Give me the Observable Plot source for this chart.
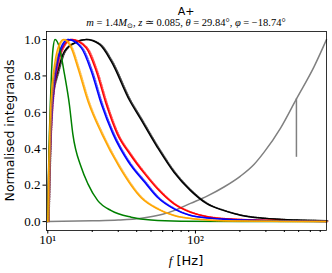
<!DOCTYPE html>
<html><head><meta charset="utf-8">
<script src="https://cdn.jsdelivr.net/npm/d3@7"></script>
<script src="https://cdn.jsdelivr.net/npm/@observablehq/plot@0.6"></script>
<style>html,body{margin:0;padding:0;background:#fff;}</style>
</head><body><div id="chart"></div>
<script>
const title = "A+";
const xLabelUnit = " [Hz]";
const yLabel = "Normalised integrands";
const yTicks = [0, 0.2, 0.4, 0.6, 0.8, 1.0];
const xMajor = [10, 100];
const xMajorLabels = ["10¹", "10²"];
const xMinor = [20,30,40,50,60,70,80,90,200,300,400,500,600,700];

const greenF = [10,10.1,10.25,10.4,10.6,10.85,11.2,12.0,12.98,14.0,14.77,16.85,18.7,21.8,26.9,36.7,50,80,200,772];
const greenV = [0,0.25,0.48,0.64,0.82,0.95,1.0,0.954,0.808,0.643,0.482,0.298,0.207,0.115,0.06,0.024,0.008,0.002,0.0005,0];
const orangeF = [10,10.15,10.35,10.7,11.2,11.8,12.78,14.4,15.97,18.8,23.2,30.6,43,55.2,71.5,100,120,200,772];
const orangeV = [0,0.3,0.55,0.75,0.88,0.96,1.0,0.954,0.845,0.655,0.482,0.298,0.13,0.07,0.033,0.014,0.009,0.003,0];
const blueF = [10,10.15,10.4,10.8,11.4,12.2,13.66,16.85,19.7,23.1,27.6,35,45.3,55.2,71.5,92.6,120,202,772];
const blueV = [0,0.28,0.52,0.72,0.86,0.95,1.0,0.954,0.826,0.643,0.482,0.33,0.216,0.134,0.07,0.033,0.02,0.009,0.001];
const redF = [10,10.15,10.4,10.8,11.5,12.5,14.4,18.2,21.3,24.9,29.5,36,45.3,55.2,71.5,92.6,120,202,772];
const redV = [0,0.27,0.5,0.7,0.85,0.95,1.0,0.954,0.826,0.643,0.482,0.37,0.262,0.18,0.097,0.051,0.027,0.011,0.001];
const blackF = [10,10.1,10.25,10.54,11.69,12.98,15.17,18.2,22.4,26.9,35.8,42.5,55.2,71.5,92.6,120,156,202,290,490,772];
const blackV = [0,0.15,0.35,0.643,0.826,0.936,0.982,1.0,0.973,0.88,0.665,0.564,0.408,0.271,0.17,0.097,0.06,0.035,0.018,0.008,0.004];
const grayF = [10,20,30,43,60,71.5,92.6,120,156,202,250,291,378,483,635,772];
const grayV = [0,0.004,0.008,0.018,0.04,0.06,0.1,0.14,0.19,0.25,0.315,0.38,0.515,0.674,0.85,1.0];
const markerF = [483];
const markerLo = [0.353];
const markerHi = [0.674];

const toRows = (F, V) => F.map((f, i) => ({f, v: V[i]}));
const series = [
  {rows: toRows(grayF, grayV), color: "gray", dotted: false},
  {rows: toRows(blackF, blackV), color: "black", dotted: true},
  {rows: toRows(redF, redV), color: "red", dotted: true},
  {rows: toRows(blueF, blueV), color: "blue", dotted: true},
  {rows: toRows(greenF, greenV), color: "green", dotted: false},
  {rows: toRows(orangeF, orangeV), color: "orange", dotted: true}
];
const marker = markerF.map((f, i) => ({f, lo: markerLo[i], hi: markerHi[i]}));

const marks = [];
for (const s of series) {
  if (s.dotted) marks.push(Plot.line(s.rows, {x: "f", y: "v", stroke: s.color, strokeWidth: 1.5, strokeDasharray: "1.2,1.2", dx: 1.2, curve: "monotone-x", strokeOpacity: 0.7}));
  marks.push(Plot.line(s.rows, {x: "f", y: "v", stroke: s.color, strokeWidth: 1.5, curve: "monotone-x"}));
}
marks.push(Plot.ruleX(marker, {x: "f", y1: "lo", y2: "hi", stroke: "gray", strokeWidth: 1.5}));

const chart = Plot.plot({
  width: 332, height: 273,
  marginLeft: 46, marginRight: 6, marginTop: 31, marginBottom: 43,
  style: {fontFamily: "'Liberation Serif', serif", fontSize: "13px", background: "white", color: "black"},
  x: {type: "log", domain: [9.8, 772], label: null},
  y: {domain: [-0.049, 1.044], label: null},
  marks: [
    ...marks,
    Plot.axisY({ticks: yTicks, tickFormat: d3.format(".1f"), tickSize: 3.5, tickPadding: 2.5, label: null, fontSize: 13}),
    Plot.axisX({ticks: xMajor, tickFormat: (d, i) => xMajorLabels[xMajor.indexOf(d)], tickSize: 3.5, tickPadding: 1, label: null, fontSize: 13}),
    Plot.axisX({ticks: xMinor, tickFormat: () => "", tickSize: 2, label: null}),
    Plot.frame({stroke: "black", strokeWidth: 0.8})
  ]
});
document.getElementById("chart").appendChild(chart);

const svg = d3.select(chart);
const cx = (46 + 326) / 2;
svg.append("text").attr("x", cx).attr("y", 15).attr("text-anchor", "middle")
  .style("font-family", "'DejaVu Sans', sans-serif").style("font-size", "11px").text(title);
const sub = svg.append("text").attr("x", cx).attr("y", 25.5).attr("text-anchor", "middle")
  .style("font-family", "'Liberation Serif', serif").style("font-size", "10.5px");
const parts = [["m","i"],[" = 1.4",""],["M","i"],["⊙","sub"],[", ",""],["z","i"],[" ≃ 0.085, ",""],["θ","i"],[" = 29.84°, ",""],["φ","i"],[" = −18.74°",""]];
let shifted = false;
for (const [t, k] of parts) {
  const ts = sub.append("tspan").text(t);
  if (k === "i") ts.style("font-style", "italic");
  if (k === "sub") { ts.attr("dy", 2).style("font-size", "7px"); shifted = true; }
  else if (shifted) { ts.attr("dy", -2); shifted = false; }
}
svg.append("text").attr("transform", `translate(13.5,130.5) rotate(-90)`).attr("text-anchor", "middle")
  .style("font-family", "'DejaVu Sans', sans-serif").style("font-size", "12.5px").text(yLabel);
const xl = svg.append("text").attr("x", cx).attr("y", 265).attr("text-anchor", "middle")
  .style("font-family", "'DejaVu Sans', sans-serif").style("font-size", "13px");
xl.append("tspan").style("font-family", "'Liberation Serif', serif").style("font-style", "italic").text("f");
xl.append("tspan").text(xLabelUnit);
</script></body></html>
